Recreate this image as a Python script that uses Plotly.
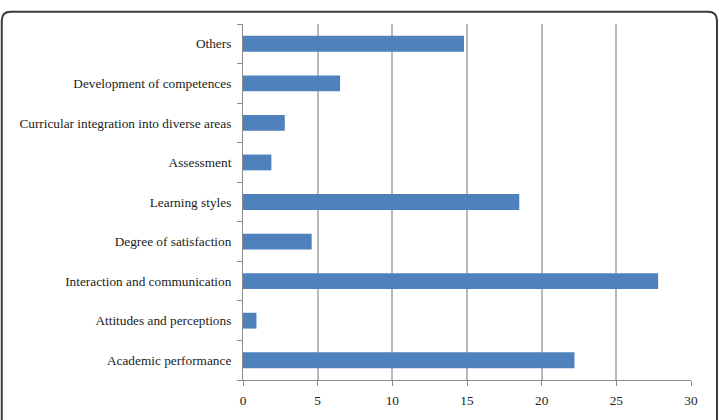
import plotly.graph_objects as go

categories = [
    "Academic performance",
    "Attitudes and perceptions",
    "Interaction and communication",
    "Degree of satisfaction",
    "Learning styles",
    "Assessment",
    "Curricular integration into diverse areas",
    "Development of competences",
    "Others",
]
values = [22.2, 0.9, 27.8, 4.6, 18.5, 1.9, 2.8, 6.5, 14.8]
x_ticks = [0, 5, 10, 15, 20, 25, 30]

W, H = 719, 420
L, R, T, B = 243, 27.5, 24, 35
pw, ph = W - L - R, H - T - B
FONT = "Tinos, 'Liberation Serif', 'Times New Roman', Times, 'DejaVu Serif', serif"

fig = go.Figure(go.Bar(
    x=values, y=categories, orientation="h",
    marker=dict(color="#4F81BD", line=dict(width=0)),
))

def P(px, py):
    a, b = (px - L) / pw, 1 - (py - T) / ph
    return f"{a:.5f},{b:.5f}"

# rounded border around figure
x0, y0, x1, y1, r = 1.5, 11.5, 717.5, 440, 9
path = (f"M {P(x0, y1)} L {P(x0, y0 + r)} Q {P(x0, y0)} {P(x0 + r, y0)} "
        f"L {P(x1 - r, y0)} Q {P(x1, y0)} {P(x1, y0 + r)} L {P(x1, y1)}")
fig.add_shape(type="path", path=path, xref="paper", yref="paper",
              line=dict(color="#3a3a3a", width=2), layer="above")

fig.update_layout(
    width=W, height=H,
    margin=dict(l=L, r=R, t=T, b=B),
    paper_bgcolor="white", plot_bgcolor="white",
    bargap=0.6,
    showlegend=False,
    font=dict(family=FONT, size=13.3, color="#222222"),
    xaxis=dict(
        range=[0, 30], tickvals=x_ticks, showgrid=True, gridcolor="#b8b8b8", gridwidth=1.5,
        showline=True, linecolor="#8c8c8c", linewidth=1, zeroline=False,
        ticks="outside", ticklen=5, tickcolor="#8c8c8c", fixedrange=True,
        ticklabelstandoff=3, tickfont=dict(family=FONT, size=13.3),
    ),
    yaxis=dict(
        showline=True, linecolor="#8c8c8c", linewidth=1,
        ticks="outside", ticklen=5, tickcolor="#8c8c8c", tickson="boundaries",
        showgrid=False, ticklabelstandoff=8, fixedrange=True,
        tickfont=dict(family=FONT, size=13.3),
    ),
)

fig.write_html("out.html")
